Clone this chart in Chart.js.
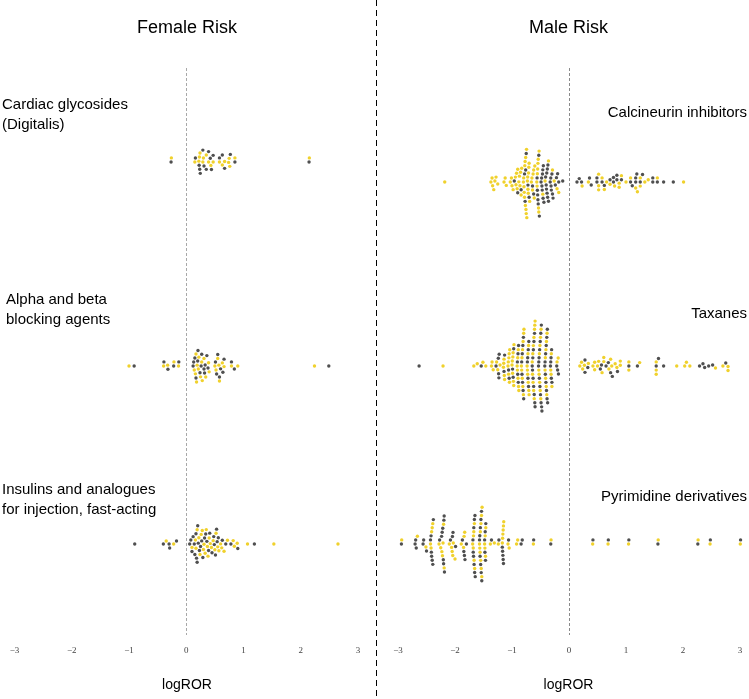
<!DOCTYPE html>
<html>
<head>
<meta charset="utf-8">
<script src="https://cdn.jsdelivr.net/npm/chart.js@4.4.0/dist/chart.umd.min.js"></script>
<style>
  body { margin: 0; background: #fff; }
  #wrap { position: relative; width: 749px; height: 699px; }
  canvas { position: absolute; top: 0; }
</style>
</head>
<body>
<div id="wrap">
  <canvas id="female" width="376" height="699" style="left:0"></canvas>
  <canvas id="male" width="373" height="699" style="left:376px"></canvas>
</div>
<script>
// dados ------------------------------------------------------------------
const xTicks = [-3, -2, -1, 0, 1, 2, 3];
const panelTitles = ['Female Risk', 'Male Risk'];
const axisTitle = 'logROR';
const femaleGroups = [['Cardiac glycosides', '(Digitalis)'], ['Alpha and beta', 'blocking agents'], ['Insulins and analogues', 'for injection, fast-acting']];
const maleGroups = [['Calcineurin inhibitors'], ['Taxanes'], ['Pyrimidine derivatives']];

// Female: Cardiac glycosides
const cardiacYellow = [-0.26, 0.15, 0.22, 0.23, 0.24, 0.29, 0.30, 0.35, 0.39, 0.43, 0.47, 0.58, 0.63, 0.67, 0.74, 0.75, 0.76, 0.85, 2.15];
const cardiacGray = [-0.265, 0.16, 0.225, 0.235, 0.245, 0.29, 0.31, 0.35, 0.39, 0.42, 0.44, 0.47, 0.58, 0.63, 0.67, 0.77, 0.85, 2.145];
// Female: Alpha and beta blocking agents
const alphaYellow = [-1.00, -0.395, -0.325, -0.215, -0.135, 0.14, 0.16, 0.17, 0.18, 0.19, 0.21, 0.22, 0.25, 0.27, 0.28, 0.31, 0.34, 0.39, 0.40, 0.50, 0.52, 0.55, 0.57, 0.58, 0.63, 0.66, 0.79, 0.90, 2.24];
const alphaGray = [-0.91, -0.39, -0.32, -0.22, -0.13, 0.12, 0.13, 0.15, 0.17, 0.20, 0.205, 0.24, 0.26, 0.27, 0.31, 0.32, 0.33, 0.36, 0.38, 0.51, 0.53, 0.55, 0.58, 0.60, 0.64, 0.66, 0.79, 0.84, 2.49];
// Female: Insulins and analogues
const insulinYellow = [-0.35, -0.22, 0.10, 0.16, 0.17, 0.19, 0.22, 0.24, 0.26, 0.28, 0.30, 0.31, 0.33, 0.35, 0.37, 0.38, 0.40, 0.42, 0.44, 0.47, 0.50, 0.52, 0.55, 0.57, 0.60, 0.62, 0.66, 0.72, 0.82, 0.84, 0.89, 1.07, 1.53, 2.65];
const insulinGray = [-0.90, -0.40, -0.30, -0.29, -0.17, 0.06, 0.08, 0.10, 0.12, 0.14, 0.15, 0.17, 0.18, 0.19, 0.20, 0.21, 0.23, 0.25, 0.27, 0.29, 0.32, 0.34, 0.36, 0.39, 0.41, 0.45, 0.48, 0.49, 0.51, 0.53, 0.54, 0.56, 0.63, 0.69, 0.78, 0.90, 1.19];

// Male: Calcineurin inhibitors
const calcineurinYellow = [-2.18, -1.37, -1.35, -1.34, -1.32, -1.30, -1.28, -1.25, -1.14, -1.12, -1.10,
  -1.03, -1.01, -1.00, -0.98, -0.94, -0.93, -0.92, -0.91, -0.90, -0.88, -0.87, -0.86, -0.85, -0.84, -0.83,
  -0.80, -0.795, -0.79, -0.785, -0.78, -0.775, -0.77, -0.765, -0.76, -0.755, -0.75, -0.745, -0.74,
  -0.73, -0.725, -0.72, -0.715, -0.71, -0.705, -0.70, -0.69, -0.66, -0.65, -0.64, -0.63, -0.62, -0.61, -0.60,
  -0.565, -0.56, -0.555, -0.55, -0.545, -0.54, -0.535, -0.53, -0.525, -0.46, -0.42, -0.36, -0.29, -0.26, -0.21, -0.18,
  0.23, 0.34, 0.52, 0.52, 0.52, 0.58, 0.62, 0.66, 0.72, 0.80, 0.88, 0.88, 0.92, 1.00, 1.08, 1.17, 1.20, 1.25, 1.25, 1.33, 1.39, 1.55, 2.01];
const calcineurinGray = [-0.96, -0.90, -0.84, -0.78, -0.77, -0.76, -0.75, -0.72, -0.70, -0.64, -0.62,
  -0.56, -0.555, -0.55, -0.545, -0.54, -0.53, -0.52,
  -0.49, -0.48, -0.475, -0.47, -0.465, -0.46, -0.455, -0.45, -0.44,
  -0.41, -0.40, -0.395, -0.39, -0.385, -0.38, -0.375, -0.37, -0.36,
  -0.33, -0.32, -0.315, -0.31, -0.30, -0.29, -0.28, -0.24, -0.22, -0.20, -0.18, -0.11,
  0.14, 0.18, 0.22, 0.36, 0.39, 0.49, 0.49, 0.58, 0.62, 0.72, 0.78, 0.78, 0.84, 0.84, 0.92, 1.08, 1.11, 1.17, 1.17, 1.19, 1.25, 1.29, 1.47, 1.47, 1.55, 1.66, 1.83];
// Male: Taxanes
const taxanesYellow = [-2.21, -1.67, -1.61, -1.51, -1.46, -1.36, -1.35, -1.33, -1.27, -1.25, -1.21,
  -1.15, -1.145, -1.14, -1.135, -1.13, -1.07, -1.065, -1.06, -1.055, -1.05, -1.045, -1.04,
  -1.00, -0.995, -0.99, -0.985, -0.98, -0.975, -0.97, -0.965, -0.91, -0.905, -0.90, -0.895, -0.89, -0.885, -0.88,
  -0.835, -0.83, -0.825, -0.82, -0.815, -0.81, -0.805, -0.80, -0.795, -0.79,
  -0.735, -0.73, -0.725, -0.72, -0.715, -0.71, -0.705, -0.70,
  -0.645, -0.64, -0.635, -0.63, -0.625, -0.62, -0.615, -0.61, -0.605, -0.60, -0.595,
  -0.53, -0.525, -0.52, -0.515, -0.51, -0.505, -0.50, -0.495, -0.49,
  -0.42, -0.415, -0.41, -0.405, -0.40, -0.395, -0.39, -0.385, -0.32, -0.315, -0.31, -0.30, -0.21, -0.19,
  0.19, 0.22, 0.24, 0.27, 0.34, 0.42, 0.45, 0.45, 0.50, 0.52, 0.58, 0.61, 0.61, 0.70, 0.73, 0.75, 0.81, 0.84, 0.90, 0.90,
  1.05, 1.05, 1.24, 1.53, 1.53, 1.53, 1.89, 2.03, 2.06, 2.12, 2.57, 2.70, 2.79, 2.79, 3.05];
const taxanesGray = [-2.63, -1.54, -1.28, -1.24, -1.235, -1.23, -1.225, -1.14, -1.13, -1.06, -1.05, -0.99, -0.98, -0.97,
  -0.905, -0.90, -0.895, -0.89, -0.885, -0.83, -0.825, -0.82, -0.815, -0.81, -0.805, -0.80, -0.795,
  -0.73, -0.725, -0.72, -0.715, -0.71, -0.705,
  -0.645, -0.64, -0.635, -0.63, -0.625, -0.62, -0.615, -0.61, -0.605, -0.60, -0.595,
  -0.535, -0.53, -0.525, -0.52, -0.515, -0.51, -0.505, -0.50, -0.495, -0.49, -0.485, -0.48, -0.475,
  -0.425, -0.42, -0.415, -0.41, -0.405, -0.40, -0.395, -0.39, -0.385, -0.38, -0.375,
  -0.325, -0.32, -0.315, -0.31, -0.305, -0.30, -0.215, -0.20, -0.185,
  0.28, 0.28, 0.33, 0.55, 0.57, 0.65, 0.69, 0.73, 0.76, 0.85, 1.05, 1.20, 1.53, 1.57, 1.66, 2.29, 2.35, 2.38, 2.45, 2.52, 2.75];
// Male: Pyrimidine derivatives
const pyrimidineYellow = [-2.935, -2.66, -2.51, -2.43, -2.42, -2.41, -2.40, -2.39,
  -2.28, -2.25, -2.23, -2.22, -2.21, -2.20, -2.19, -2.10, -2.06, -2.05, -2.04, -2.03, -2.00,
  -1.89, -1.85, -1.84, -1.83, -1.69, -1.68, -1.675, -1.67, -1.665, -1.66, -1.655,
  -1.57, -1.565, -1.56, -1.555, -1.55, -1.545, -1.54, -1.535, -1.53, -1.525,
  -1.48, -1.475, -1.47, -1.465, -1.46, -1.38, -1.31, -1.24,
  -1.17, -1.165, -1.16, -1.155, -1.15, -1.145, -1.07, -1.05, -0.92, -0.90, -0.625, -0.315,
  0.415, 0.685, 1.045, 1.565, 2.265, 2.475, 3.005];
const pyrimidineGray = [-3.035, -3.03, -2.94, -2.70, -2.69, -2.68, -2.56, -2.55, -2.50,
  -2.43, -2.42, -2.415, -2.41, -2.40, -2.39, -2.38,
  -2.27, -2.235, -2.225, -2.215, -2.205, -2.20, -2.195, -2.19, -2.185,
  -2.08, -2.045, -2.035, -1.99, -1.87, -1.845, -1.835, -1.825, -1.80,
  -1.685, -1.68, -1.675, -1.67, -1.665, -1.66, -1.655, -1.65, -1.645,
  -1.57, -1.565, -1.56, -1.555, -1.55, -1.545, -1.54, -1.535, -1.53,
  -1.48, -1.475, -1.47, -1.465, -1.46, -1.36, -1.23,
  -1.17, -1.165, -1.16, -1.155, -1.15, -1.06, -0.84, -0.82, -0.62, -0.32,
  0.42, 0.69, 1.05, 1.56, 2.26, 2.48, 3.01];
//---------------------------------------------------------------------------

const YELLOW = '#F0D12C';
const GRAY = '#4F4F4F';
const DOT = 4.1; // distancia minima entre pontos (px)

// beeswarm simples: cada ponto vai para o menor deslocamento sem sobrepor
function swarm(pts) {
  const placed = [];
  pts.sort((a, b) => a.px - b.px);
  pts.forEach((p, idx) => {
    const pref = (idx % 4 < 2) ? 1 : -1; // alterna o lado preferido p/ misturar as cores
    const cand = [0];
    placed.forEach(q => {
      const dx = p.px - q.px;
      if (Math.abs(dx) < DOT) {
        const h = Math.sqrt(DOT * DOT - dx * dx);
        cand.push(q.off + h, q.off - h);
      }
    });
    // primeiro anel: sempre para cima; depois alterna
    cand.sort((a, b) => (Math.abs(a) - Math.abs(b)) || (Math.abs(a) < 1.5 * DOT ? a - b : (b - a) * pref));
    for (const c of cand) {
      const ok = placed.every(q => {
        const dx = p.px - q.px, dy = c - q.off;
        return dx * dx + dy * dy >= DOT * DOT - 0.01;
      });
      if (ok) { p.off = c; break; }
    }
    placed.push(p);
  });
}

// textos, linha do zero e divisoria
const panelPlugin = {
  id: 'panelText',
  beforeDatasetsDraw(chart, args, o) {
    const ctx = chart.ctx;
    const x0 = Math.round(chart.scales.x.getPixelForValue(0)) + 0.5;
    ctx.save();
    ctx.strokeStyle = o.zeroColor;
    ctx.lineWidth = 1;
    ctx.setLineDash([3, 2]);
    ctx.beginPath();
    ctx.moveTo(x0, 68);
    ctx.lineTo(x0, 635);
    ctx.stroke();
    if (o.divider) {
      ctx.strokeStyle = '#000';
      ctx.setLineDash([6, 4]);
      ctx.beginPath();
      ctx.moveTo(0.5, 0);
      ctx.lineTo(0.5, 699);
      ctx.stroke();
    }
    ctx.restore();
  },
  afterDraw(chart, args, o) {
    const ctx = chart.ctx;
    ctx.save();
    ctx.fillStyle = '#000';
    ctx.textBaseline = 'middle';
    ctx.font = '18px "Liberation Sans", Arial, sans-serif';
    ctx.textAlign = 'center';
    ctx.fillText(o.title, o.titleX, 28);
    ctx.font = '14px "Liberation Sans", Arial, sans-serif';
    ctx.fillText(axisTitle, o.titleX, 685);
    ctx.font = '15px "Liberation Sans", Arial, sans-serif';
    ctx.textAlign = o.align;
    o.groups.forEach((lines, i) => {
      lines.forEach((t, j) => ctx.fillText(t, o.labelX[i], o.labelY[i] + j * 20));
    });
    ctx.restore();
  }
};

function makePanel(id, rows, centers, pad, text) {
  const chart = new Chart(document.getElementById(id), {
    type: 'scatter',
    data: {
      datasets: [
        { data: [], backgroundColor: YELLOW, pointRadius: 1.7, pointBorderWidth: 0, pointHoverRadius: 1.7, clip: false },
        { data: [], backgroundColor: GRAY, pointRadius: 1.7, pointBorderWidth: 0, pointHoverRadius: 1.7, clip: false }
      ]
    },
    options: {
      responsive: false,
      animation: false,
      events: [],
      layout: { padding: { left: pad[0], right: pad[1], top: 10, bottom: 39 } },
      plugins: { legend: { display: false }, tooltip: { enabled: false }, panelText: text },
      scales: {
        x: {
          type: 'linear', min: -3, max: 3,
          afterBuildTicks: s => { s.ticks = xTicks.map(v => ({ value: v })); },
          grid: { display: false },
          border: { display: false },
          ticks: {
            padding: 4, maxRotation: 0, color: '#444',
            font: { family: '"Liberation Serif", "DejaVu Serif", serif', size: 9 },
            callback: v => v < 0 ? '\u2212' + Math.abs(v) : String(v)
          }
        },
        y: { min: 0, max: 1, display: false }
      }
    },
    plugins: [panelPlugin]
  });

  const xs = chart.scales.x, ys = chart.scales.y;
  rows.forEach((r, i) => {
    const pts = [];
    const n = Math.max(r[0].length, r[1].length);
    for (let k = 0; k < n; k++) {
      if (k < r[0].length) pts.push({ v: r[0][k], c: 0 });
      if (k < r[1].length) pts.push({ v: r[1][k], c: 1 });
    }
    pts.forEach(p => { p.px = xs.getPixelForValue(p.v); });
    swarm(pts);
    pts.forEach(p => {
      chart.data.datasets[p.c].data.push({ x: p.v, y: ys.getValueForPixel(centers[i] + p.off) });
    });
  });
  chart.update('none');
  return chart;
}

makePanel('female',
  [[cardiacYellow, cardiacGray], [alphaYellow, alphaGray], [insulinYellow, insulinGray]],
  [162, 366, 544], [14.5, 18],
  { title: panelTitles[0], titleX: 187, groups: femaleGroups, align: 'left', labelX: [2, 6, 2], labelY: [105, 300, 490], zeroColor: '#a8a8a8', divider: false });

makePanel('male',
  [[calcineurinYellow, calcineurinGray], [taxanesYellow, taxanesGray], [pyrimidineYellow, pyrimidineGray]],
  [182, 366, 544], [22, 9],
  { title: panelTitles[1], titleX: 192.5, groups: maleGroups, align: 'right', labelX: [371, 371, 371], labelY: [113, 314, 497], zeroColor: '#8a8a8a', divider: true });
</script>
</body>
</html>
